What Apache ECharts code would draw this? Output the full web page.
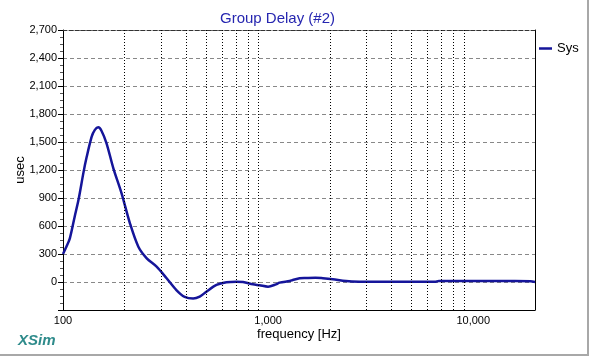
<!DOCTYPE html>
<html>
<head>
<meta charset="utf-8">
<script src="https://cdn.jsdelivr.net/npm/echarts@6/dist/echarts.min.js"></script>
<style>
html,body{margin:0;padding:0;background:#fff;}
#c{width:590px;height:357px;}
</style>
</head>
<body>
<div id="c"></div>
<script>
// Frequencies (Hz) and group delay (usec)
var freqs = [100, 104, 108, 114, 119, 126, 130, 138, 143, 148.6, 154, 163, 176, 193, 212, 233, 256, 286, 320, 357, 392, 431, 464, 500, 560, 626, 700, 755, 843, 909, 999, 1092, 1137, 1273, 1319, 1424, 1530, 1700, 1849, 2067, 2398, 2783, 3500, 5000, 6500, 6800, 10000, 15000, 19000, 20000];
var delays = [300, 380, 468, 700, 880, 1180, 1325, 1557, 1630, 1657, 1621, 1486, 1218, 950, 629, 378, 254, 164, 40, -86, -160, -178, -157, -104, -32, -3, 4, 0, -25, -35, -50, -25, -7, 11, 21, 40, 43, 46, 40, 29, 11, 4, 2, 2, 2, 12, 12, 10, 8, 0];
var seriesName = 'Sys';
var xMin = 100, xMax = 20000;
var yMin = -300, yMax = 2700, yStep = 300;
var gridFreqs = [200, 300, 400, 500, 600, 700, 800, 900, 2000, 3000, 4000, 5000, 6000, 7000, 8000, 9000];

var data = freqs.map(function (f, i) { return [f, delays[i]]; });
var FONT = 'Liberation Sans, Arial, sans-serif';

var chart = echarts.init(document.getElementById('c'), null, {renderer: 'canvas'});
chart.setOption({
  animation: false,
  backgroundColor: '#fff',
  title: {
    text: 'Group Delay (#2)',
    left: 215, top: 6,
    textStyle: {color: '#2626b0', fontSize: 15, fontWeight: 'normal', fontFamily: FONT}
  },
  legend: {
    data: [{name: seriesName, icon: 'rect'}],
    left: 534, top: 37,
    itemWidth: 13, itemHeight: 2.5, itemGap: 5,
    textStyle: {color: '#000', fontSize: 13, fontFamily: FONT}
  },
  grid: {left: 63, right: 55, top: 30, bottom: 47, containLabel: false, outerBoundsMode: 'none'},
  xAxis: [{
    type: 'log', logBase: 10, min: xMin, max: xMax,
    name: 'frequency [Hz]', nameLocation: 'middle', nameGap: 18, nameMoveOverlap: false,
    nameTextStyle: {color: '#000', fontSize: 13, fontFamily: FONT},
    axisLine: {show: true, onZero: false, lineStyle: {color: '#000', width: 1}},
    axisTick: {show: false},
    splitLine: {show: false},
    axisLabel: {
      color: '#000', fontSize: 11, fontFamily: FONT, margin: 5,
      formatter: function (v) {
        var l = Math.log10(v);
        if (Math.abs(l - Math.round(l)) > 1e-6) return '';
        return Math.round(v).toLocaleString('en-US');
      }
    }
  }, {
    type: 'log', logBase: 10, min: xMin, max: xMax, position: 'top',
    axisLine: {show: true, onZero: false, lineStyle: {color: '#333', width: 1, type: [4, 2]}},
    axisTick: {show: false}, axisLabel: {show: false}, splitLine: {show: false}
  }],
  yAxis: [{
    type: 'value', min: yMin, max: yMax, interval: yStep,
    name: 'usec', nameLocation: 'middle', nameGap: 36, nameMoveOverlap: false,
    nameTextStyle: {color: '#000', fontSize: 13, fontFamily: FONT},
    axisLine: {show: true, onZero: false, lineStyle: {color: '#000', width: 1}},
    axisTick: {show: true, length: 5, lineStyle: {color: '#000'}},
    minorTick: {show: true, splitNumber: 4, length: 3, lineStyle: {color: '#555'}},
    splitLine: {show: true, lineStyle: {color: '#888', width: 1, type: [4, 3]}},
    axisLabel: {
      color: '#000', fontSize: 11, fontFamily: FONT, margin: 6,
      formatter: function (v) { return v === yMin ? '' : v.toLocaleString('en-US'); }
    }
  }, {
    type: 'value', min: yMin, max: yMax, interval: yStep, position: 'right',
    axisLine: {show: true, onZero: false, lineStyle: {color: '#000', width: 1}},
    axisTick: {show: false}, axisLabel: {show: false}, splitLine: {show: false}
  }],
  series: [{
    name: seriesName,
    type: 'line',
    data: data,
    smooth: 0.3,
    symbol: 'none',
    lineStyle: {color: '#15159a', width: 2.5},
    itemStyle: {color: '#15159a'},
    markLine: {
      silent: true,
      symbol: ['none', 'none'],
      label: {show: false},
      lineStyle: {color: '#000', width: 1, type: [1, 2]},
      emphasis: {disabled: true},
      data: gridFreqs.map(function (f) { return {xAxis: f}; })
    }
  }],
  graphic: [
    {type: 'text', left: 18, top: 333, style: {text: 'XSim', fill: '#2e8b8b', font: 'italic bold 15px ' + FONT}},
    {type: 'line', shape: {x1: 588, y1: 0, x2: 588, y2: 355}, style: {stroke: '#a8a8a8', lineWidth: 2}},
    {type: 'line', shape: {x1: 0, y1: 355, x2: 589, y2: 355}, style: {stroke: '#a8a8a8', lineWidth: 2}}
  ]
});
</script>
</body>
</html>
